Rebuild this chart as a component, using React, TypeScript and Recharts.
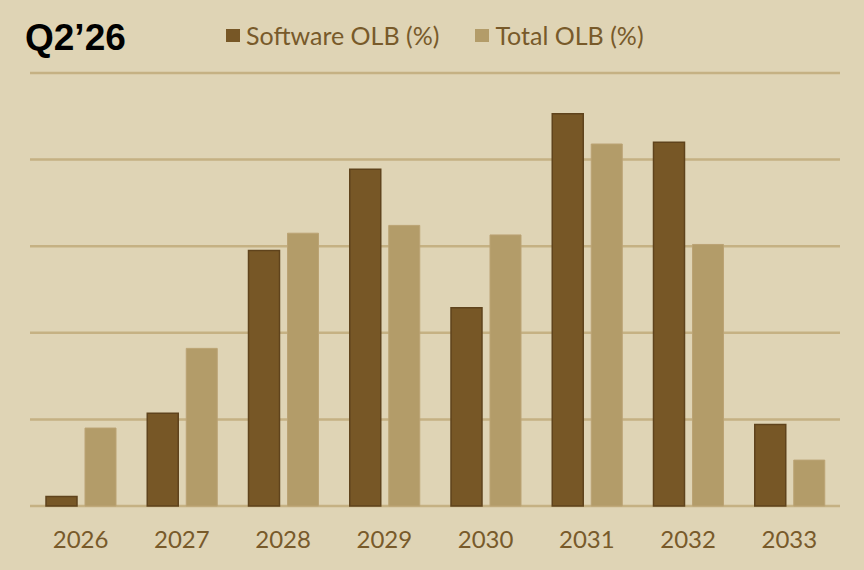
import React from "react";
import { BarChart, Bar, XAxis, YAxis, CartesianGrid, Legend } from "recharts";

const years = ["2026", "2027", "2028", "2029", "2030", "2031", "2032", "2033"];
const softwareOLB = [1.1, 10.7, 29.5, 38.9, 22.9, 45.3, 42.0, 9.4];
const totalOLB = [9.0, 18.2, 31.5, 32.4, 31.3, 41.8, 30.2, 5.3];
const yTicks = [0, 10, 20, 30, 40, 50];

const data = years.map((y, i) => ({ year: y, software: softwareOLB[i], total: totalOLB[i] }));

const BG = "#dfd4b5";
const TEXT = "#785a2a";
const GRID = "#c5b183";
const DARK = "#775726";
const LIGHT = "#b39c69";

const LegendContent = (props: any) => {
  const { payload } = props;
  return (
    <div style={{ display: "flex", alignItems: "center", fontFamily: "Lato", fontSize: 25, color: TEXT }}>
      {(payload || []).map((p: any, i: number) => (
        <div key={i} style={{ display: "flex", alignItems: "center", marginRight: i === 0 ? 36 : 0 }}>
          <div style={{ width: 14, height: 13, background: p.color, marginRight: 6 }} />
          <span style={{ lineHeight: "30px" }}>{p.value}</span>
        </div>
      ))}
    </div>
  );
};

export default function App() {
  return (
    <div style={{ position: "absolute", left: 0, top: 0, width: 864, height: 570, background: BG, overflow: "hidden" }}>
      <div
        style={{
          position: "absolute",
          left: 25,
          top: 16,
          fontFamily: "Liberation Sans",
          fontWeight: 700,
          fontSize: 37,
          color: "#000",
          lineHeight: "44px",
        }}
      >
        Q2’26
      </div>
      <BarChart
        width={864}
        height={570}
        data={data}
        margin={{ top: 43, right: 24, bottom: 0, left: 30 }}
        barSize={31}
        barGap={8}
      >
        <CartesianGrid vertical={false} stroke={GRID} strokeWidth={2.5} />
        <YAxis hide domain={[0, 50]} ticks={yTicks} />
        <XAxis
          dataKey="year"
          axisLine={false}
          tickLine={false}
          height={64}
          tickMargin={19}
          tick={{ fill: TEXT, fontSize: 24, fontFamily: "Lato" }}
        />
        <Legend
          verticalAlign="top"
          content={<LegendContent />}
          wrapperStyle={{ position: "absolute", top: 20, left: 226, width: "auto" }}
        />
        <Bar dataKey="software" name="Software OLB (%)" fill={DARK} stroke="#5f431c" strokeWidth={1.5} isAnimationActive={false} />
        <Bar dataKey="total" name="Total OLB (%)" fill={LIGHT} stroke="#bba374" strokeWidth={1} isAnimationActive={false} />
      </BarChart>
    </div>
  );
}
